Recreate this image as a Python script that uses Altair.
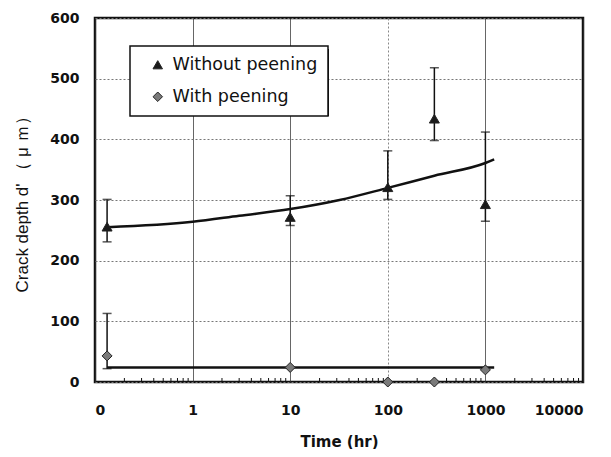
import altair as alt
import pandas as pd

# --- data ---
series_names = ["Without peening", "With peening"]

wo_time = [0.133, 10, 100, 300, 1000]
wo_depth = [256, 272, 321, 434, 293]
wo_lo = [231, 258, 301, 398, 265]
wo_hi = [301, 307, 381, 518, 412]

w_time = [0.133, 10, 100, 300, 1000]
w_depth = [43, 24, 0, 0, 20]
w_err_time = [0.133]
w_err_lo = [22]
w_err_hi = [113]

wo_fit_time = [0.133, 1, 3, 10, 32, 100, 300, 1000, 1230]
wo_fit_depth = [255, 264, 274, 285, 300, 320, 340, 361, 367]

w_fit_time = [0.133, 1230]
w_fit_depth = [24, 24]

x_ticks = [0.1, 1, 10, 100, 1000, 10000]
y_ticks = [0, 100, 200, 300, 400, 500, 600]
minor_ticks = [m * 10 ** k for k in range(-1, 4) for m in range(2, 10)]

# --- tables ---
pts = pd.DataFrame({
    "time": wo_time + w_time,
    "depth": wo_depth + w_depth,
    "series": [series_names[0]] * len(wo_time) + [series_names[1]] * len(w_time),
})
err = pd.DataFrame({
    "time": wo_time + w_err_time,
    "lo": wo_lo + w_err_lo,
    "hi": wo_hi + w_err_hi,
})
fit = pd.DataFrame({
    "time": wo_fit_time + w_fit_time,
    "depth": wo_fit_depth + w_fit_depth,
    "series": [series_names[0]] * len(wo_fit_time) + [series_names[1]] * len(w_fit_time),
})
minor = pd.DataFrame({"time": minor_ticks})
shadow_df = pd.DataFrame({"a": [0]})

xscale = alt.Scale(type="log", domain=[0.1, 10000])
yscale = alt.Scale(domain=[0, 600])

xaxis = alt.Axis(
    values=x_ticks,
    labelExpr="datum.value < 0.5 ? '0' : format(datum.value, 'd')",
    title="Time (hr)",
    titleFont="DejaVu Sans", titleFontSize=15, titleFontWeight="bold",
    titleColor="#111", titlePadding=17,
    labelFont="DejaVu Sans", labelFontSize=14, labelFontWeight="bold",
    labelColor="#111", labelPadding=21,
    ticks=False, domain=False, grid=True,
    gridColor={"condition": {"test": "datum.value == 100", "value": "#888"}, "value": "#333"},
    gridDash={"condition": {"test": "datum.value == 100", "value": [2, 2]}, "value": [1, 0]},
    gridWidth=1,
)
yaxis = alt.Axis(
    values=y_ticks,
    title="Crack depth d' （ μ ｍ）",
    titleFont="Liberation Sans", titleFontSize=17, titleFontWeight="normal",
    titleColor="#111", titlePadding=18,
    labelFont="DejaVu Sans", labelFontSize=14, labelFontWeight="bold",
    labelColor="#111", labelPadding=16,
    ticks=False, domain=False, grid=True,
    gridColor="#777", gridDash=[2, 2], gridWidth=1,
)

base_x = alt.X("time:Q", scale=xscale, axis=xaxis)

shadow = alt.Chart(shadow_df).mark_rect(color="#111").encode(
    x=alt.value(38), x2=alt.value(234), y=alt.value(31), y2=alt.value(98)
)

minor_layer = alt.Chart(minor).mark_rule(color="#111", strokeWidth=1).encode(
    x=alt.X("time:Q", scale=xscale, axis=xaxis),
    y=alt.value(364), y2=alt.value(360),
)

fit_layer = alt.Chart(fit).mark_line(color="#111", strokeWidth=2.5, interpolate="monotone").encode(
    x=base_x,
    y=alt.Y("depth:Q", scale=yscale, axis=yaxis),
    detail="series:N",
)

err_rule = alt.Chart(err).mark_rule(color="#111", strokeWidth=1.5).encode(
    x=base_x, y=alt.Y("lo:Q", scale=yscale, axis=yaxis), y2="hi:Q"
)
cap_lo = alt.Chart(err).mark_tick(color="#111", thickness=1.5, size=9, orient="horizontal").encode(
    x=base_x, y=alt.Y("lo:Q", scale=yscale, axis=yaxis)
)
cap_hi = alt.Chart(err).mark_tick(color="#111", thickness=1.5, size=9, orient="horizontal").encode(
    x=base_x, y=alt.Y("hi:Q", scale=yscale, axis=yaxis)
)

points = alt.Chart(pts).mark_point(filled=True, opacity=1, stroke="#222", strokeWidth=1, size=100, clip=False).encode(
    x=base_x,
    y=alt.Y("depth:Q", scale=yscale, axis=yaxis),
    color=alt.Color("series:N", scale=alt.Scale(domain=series_names, range=["#1a1a1a", "#7a7a7a"]),
                    legend=alt.Legend(title=None)),
    shape=alt.Shape("series:N", scale=alt.Scale(domain=series_names, range=["triangle-up", "diamond"]),
                    legend=alt.Legend(title=None)),
)

chart = alt.layer(
    shadow, minor_layer, fit_layer, err_rule, cap_lo, cap_hi, points
).properties(
    width=488, height=364,
    padding={"left": 87, "top": 10, "right": 10, "bottom": 67},
    autosize=alt.AutoSizeParams(type="none"),
    background="white",
).configure_view(
    stroke="#111", strokeWidth=2.5
).configure_legend(
    orient="none", legendX=35, legendY=28,
    fillColor="white", strokeColor="#111", strokeWidth=1.5,
    padding=10, symbolOffset=9, labelOffset=6, rowPadding=13,
    labelFont="DejaVu Sans", labelFontSize=17.5, labelColor="#111",
    symbolSize=90, symbolStrokeWidth=1, symbolStrokeColor="#222",
)

chart.save("out.html", embed_options={"renderer": "svg", "actions": False})
